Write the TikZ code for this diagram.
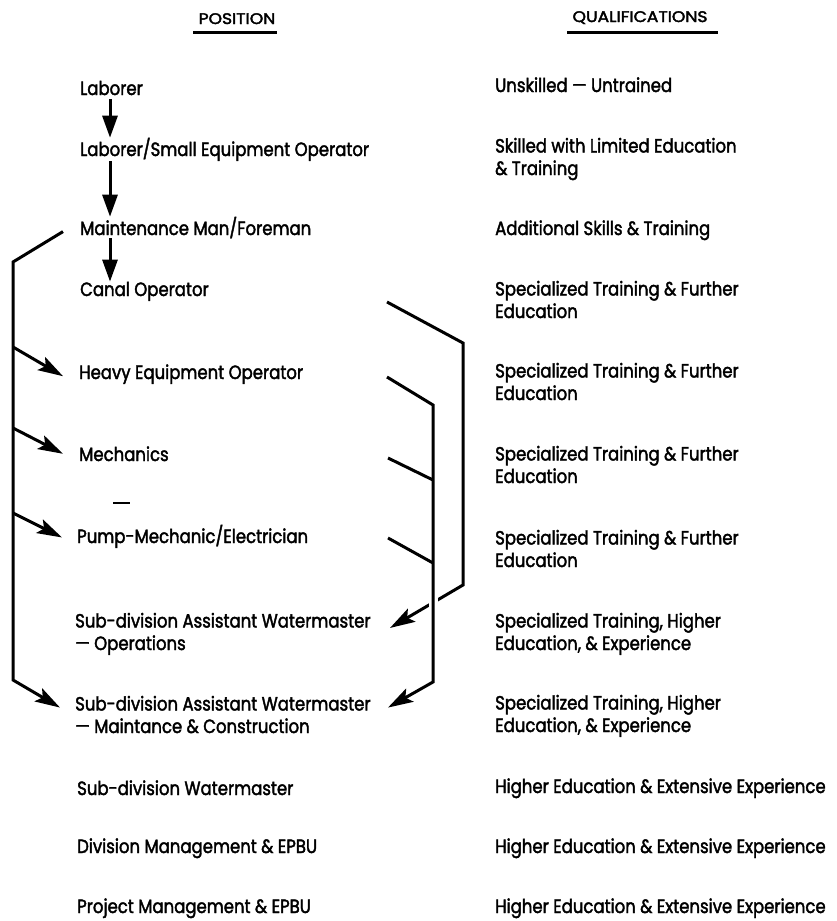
\documentclass[tikz,border=0pt]{standalone}
\usepackage{fontspec}
\setmainfont{Poppins}[FakeStretch=0.86, FakeBold=2]
\newfontfamily\headfont{Poppins}[FakeStretch=1.12, FakeBold=2.6]
\usetikzlibrary{arrows.meta,calc}
\begin{document}
\begin{tikzpicture}[x=1pt,y=-1pt,
  lbl/.style={anchor=base west, inner sep=0pt, align=left,
    font=\fontsize{19.2}{22.5}\selectfont},
  ttl/.style={anchor=base, inner sep=0pt, font=\headfont\fontsize{15.3}{17}\selectfont},
  uline/.style={line width=2.8pt},
  conn/.style={line width=3pt},
  vhead/.tip={Triangle[length=22pt,width=15pt]},
  dhead/.tip={Stealth[length=25pt,width=15pt,inset=5pt]},
]
\useasboundingbox (0,0) rectangle (836,921);

% column headings
\node[ttl] (tpos) at (237,24) {POSITION};
\node[ttl] (tqua) at (640,22) {QUALIFICATIONS};
\draw[uline] ([shift={(-5,8)}]tpos.south west) -- ([shift={(1,8)}]tpos.south east);
\draw[uline] ([shift={(-5,8)}]tqua.south west) -- ([shift={(10,8)}]tqua.south east);

% positions (two-line entries are placed by the baseline of their last line)
\node[lbl] (lab) at (80,95)  {Laborer};
\node[lbl] (lse) at (80,156) {Laborer/Small Equipment Operator};
\node[lbl] (mmf) at (80,235) {Maintenance Man/Foreman};
\node[lbl] (cop) at (80,296) {Canal Operator};
\node[lbl] (heo) at (79,379) {Heavy Equipment Operator};
\node[lbl] (mec) at (79,461) {Mechanics};
\node[lbl] (pme) at (77,543) {Pump-Mechanic/Electrician};
\node[lbl] (sdo) at (75,650) {Sub-division Assistant Watermaster\\— Operations};
\node[lbl] (sdm) at (75,733) {Sub-division Assistant Watermaster\\— Maintance \& Construction};
\node[lbl] (sdw) at (77,795) {Sub-division Watermaster};
\node[lbl] (dme) at (77,853) {Division Management \& EPBU};
\node[lbl] (pjm) at (77,913) {Project Management \& EPBU};

% qualifications
\node[lbl] (q1)  at (495,92)  {Unskilled — Untrained};
\node[lbl] (q2)  at (495,175) {Skilled with Limited Education\\\& Training};
\node[lbl] (q3)  at (495,235) {Additional Skills \& Training};
\node[lbl] (q4)  at (495,318) {Specialized Training \& Further\\Education};
\node[lbl] (q5)  at (495,400) {Specialized Training \& Further\\Education};
\node[lbl] (q6)  at (495,483) {Specialized Training \& Further\\Education};
\node[lbl] (q7)  at (495,567) {Specialized Training \& Further\\Education};
\node[lbl] (q8)  at (495,650) {Specialized Training, Higher\\Education, \& Experience};
\node[lbl] (q9)  at (495,732) {Specialized Training, Higher\\Education, \& Experience};
\node[lbl] (q10) at (495,793) {Higher Education \& Extensive Experience};
\node[lbl] (q11) at (495,853) {Higher Education \& Extensive Experience};
\node[lbl] (q12) at (495,913) {Higher Education \& Extensive Experience};

% straight promotion line
\coordinate (ax) at (110,0);
\draw[conn,-{vhead}] ([yshift=-4pt]lab.south -| ax) -- (lse.north -| ax);
\draw[conn,-{vhead}] (lse.south -| ax) -- (mmf.north -| ax);
\draw[conn,-{vhead}] (mmf.south -| ax) -- (cop.north -| ax);

% left bracket: foreman to the trades and to maintenance
\coordinate (lt) at (13,262);
\coordinate (lb) at (13,680);
\coordinate (b1) at (13,347);
\coordinate (b2) at (13,428);
\coordinate (b3) at (13,513);
\draw[conn,-{dhead}] ([shift={(-17,4)}]mmf.west) -- (lt) -- (lb) -- ([shift={(-15,-7)}]sdm.west);
\draw[conn,-{dhead}] (b1) -- ([shift={(-16,2)}]heo.west);
\draw[conn,-{dhead}] (b2) -- ([shift={(-16,0)}]mec.west);
\draw[conn,-{dhead}] (b3) -- ([shift={(-15,1)}]pme.west);

% small mark between the trades
\draw[line width=1.6pt] (113,503) -- (130,503);

% right bracket: canal operator to operations
\coordinate (rx) at (390,0);
\coordinate (r0) at (387,302);
\coordinate (r1) at (463,343);
\coordinate (r2) at (463,585);
\draw[conn,-{dhead}] (r0) -- (r1) -- (r2) -- ($(sdo.east -| rx)+(0,-6)$);

% gap where the two right-hand lines cross
\draw[white,line width=9pt] (433,593) -- (433,612);

% inner right bracket: trades to maintenance and construction
\coordinate (i0) at (387,377);
\coordinate (i1) at (433,405);
\coordinate (i4) at (433,682);
\coordinate (i2s) at (388,458);
\coordinate (i2) at (433,480);
\coordinate (i3s) at (388,538);
\coordinate (i3) at (433,563);
\draw[conn,-{dhead}] (i0) -- (i1) -- (i4) -- ($(sdm.east -| rx)+(-2,-7)$);
\draw[conn] (i2s) -- (i2);
\draw[conn] (i3s) -- (i3);
\end{tikzpicture}
\end{document}
